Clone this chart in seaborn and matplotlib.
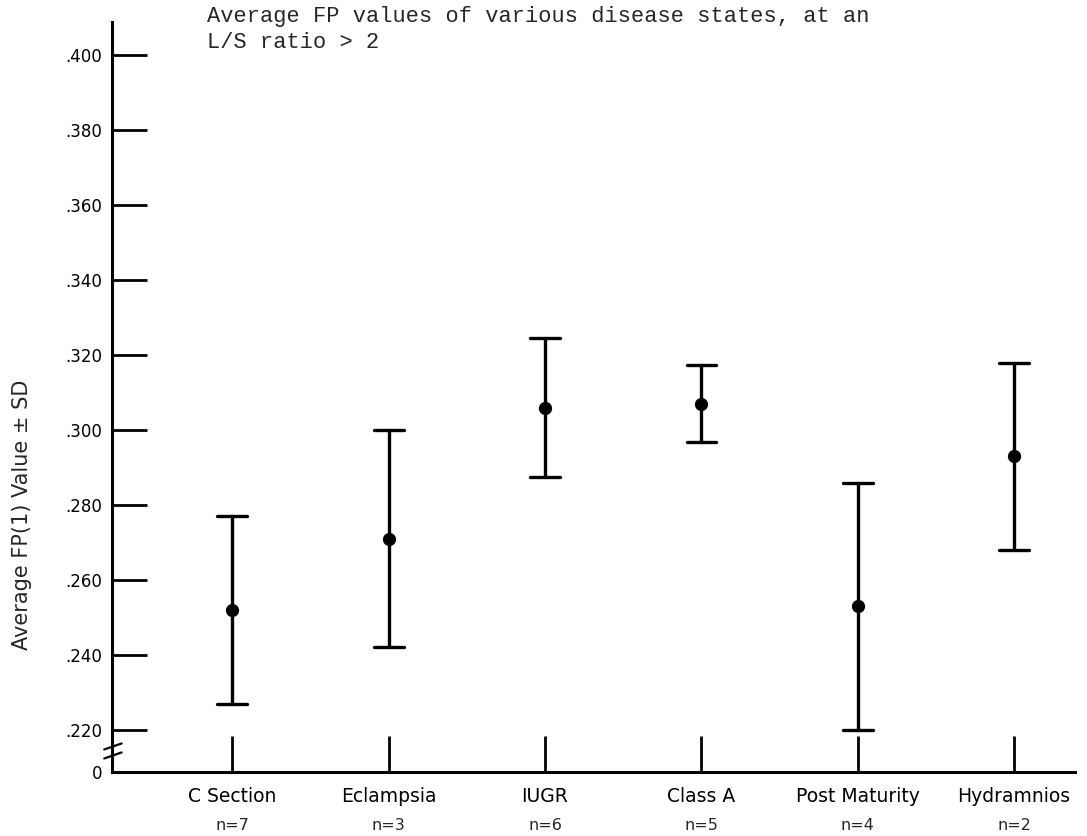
import numpy as np
import pandas as pd
import matplotlib
matplotlib.use("Agg")
import matplotlib.pyplot as plt
import matplotlib.transforms as mtransforms
import seaborn as sns

# Disease states, group sizes, mean FP(1) values and standard deviations
categories = ["C Section", "Eclampsia", "IUGR", "Class A", "Post Maturity", "Hydramnios"]
group_n = [7, 3, 6, 5, 4, 2]
mean_fp = [0.252, 0.271, 0.306, 0.307, 0.253, 0.293]
sd_fp = [0.025, 0.029, 0.0185, 0.0103, 0.033, 0.025]

ytick_values = [0.220, 0.240, 0.260, 0.280, 0.300, 0.320, 0.340, 0.360, 0.380, 0.400]
ytick_labels = [".220", ".240", ".260", ".280", ".300", ".320", ".340", ".360", ".380", ".400"]

title = "Average FP values of various disease states, at an\nL/S ratio > 2"
ylabel = "Average FP(1) Value \u00b1 SD"

# Each group as (mean - SD, mean, mean + SD): the mean of the three is the group mean
# and the full percentile interval spans exactly mean \u00b1 SD.
rows = []
for cat, m, s in zip(categories, mean_fp, sd_fp):
    for v in (m - s, m, m + s):
        rows.append({"state": cat, "fp": v})
df = pd.DataFrame(rows)

sns.set_theme(style="ticks")
plt.rcParams["font.family"] = ["DejaVu Sans"]

fig = plt.figure(figsize=(10.87, 8.36), dpi=100)
ax = fig.add_axes([0.103, 0.0766, 0.886, 0.897])

sns.pointplot(
    data=df, x="state", y="fp", order=categories,
    estimator="mean", errorbar=("pi", 100),
    linestyle="none", color="black", markersize=7.5,
    capsize=0.19, err_kws={"linewidth": 2.4},
    ax=ax,
)

# Axis ranges: the gap below .220 is the broken part of the axis, labelled 0
y_break = 0.2088
ax.set_ylim(y_break, 0.4088)
ax.set_xlim(-0.77, 5.39)

ax.set_yticks([y_break] + ytick_values)
ax.set_yticklabels(["0"] + ytick_labels, fontsize=12)
ax.set_xticks(range(len(categories)))
ax.set_xticklabels(categories, fontsize=13.5)

ax.tick_params(axis="y", direction="in", length=25, width=2, pad=7, colors="black")
ax.tick_params(axis="x", direction="in", length=26, width=2, pad=11, colors="black")

# Group sizes under the category names
trans = mtransforms.blended_transform_factory(ax.transData, fig.transFigure)
for i, n in enumerate(group_n):
    ax.text(i, 1 - 826 / 836, f"n={n}", transform=trans, ha="center", va="center",
            fontsize=11.5, clip_on=False)

for side in ("top", "right"):
    ax.spines[side].set_visible(False)
for side in ("left", "bottom"):
    ax.spines[side].set_linewidth(2.2)
    ax.spines[side].set_color("black")

ax.set_xlabel("")
ax.set_ylabel("")

# Break marks on the y axis between 0 and .220
for yc in (0.024, 0.036):
    ax.plot([-0.008, 0.010], [yc - 0.006, yc + 0.002], transform=ax.transAxes,
            color="black", linewidth=1.6, clip_on=False)

fig.text(0.020, 1 - 515 / 836, ylabel, rotation=90, ha="center", va="center", fontsize=15)
fig.text(0.19, 0.993, title, ha="left", va="top", fontsize=15.8,
         family="Liberation Mono", linespacing=1.35)

fig.savefig("out.png", dpi=100, facecolor="white")
